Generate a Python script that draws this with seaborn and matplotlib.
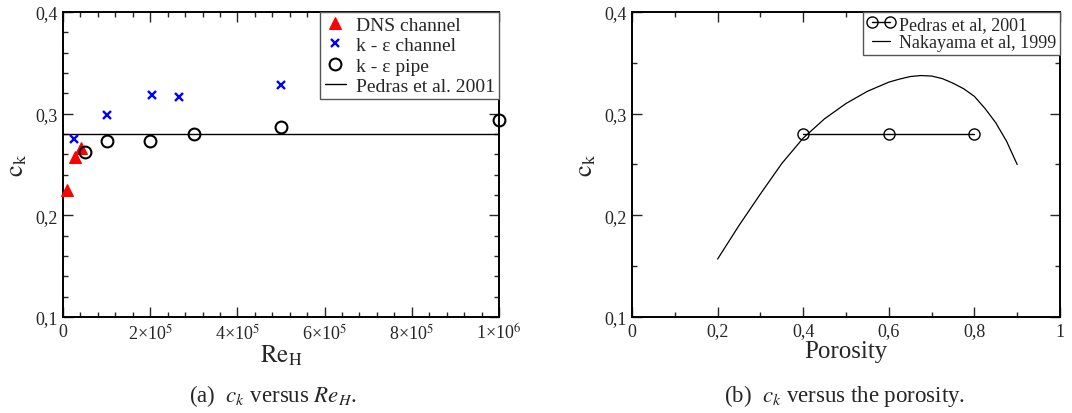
import matplotlib
matplotlib.use("Agg")
import matplotlib.pyplot as plt
from matplotlib.ticker import MultipleLocator, FixedLocator, FixedFormatter
import seaborn as sns
import pandas as pd

# ---------------- data ----------------
# panel (a)
dns_re = [1.0e4, 2.7e4, 4.1e4]
dns_ck = [0.225, 0.257, 0.266]

keps_ch_re = [2.6e4, 1.0e5, 2.05e5, 2.65e5, 5.0e5]
keps_ch_ck = [0.275, 0.299, 0.318, 0.316, 0.328]

keps_pipe_re = [5.0e4, 1.0e5, 2.0e5, 3.0e5, 5.0e5, 1.0e6]
keps_pipe_ck = [0.262, 0.273, 0.273, 0.280, 0.287, 0.294]

pedras_const = 0.28

re_ticks = [0, 2e5, 4e5, 6e5, 8e5, 1e6]
re_ticklabels = ["0", "2×10$^5$", "4×10$^5$", "6×10$^5$", "8×10$^5$", "1×10$^6$"]
ck_ticks = [0.1, 0.2, 0.3, 0.4]
ck_ticklabels = ["0,1", "0,2", "0,3", "0,4"]

# panel (b)
por_pedras = [0.4, 0.6, 0.8]
ck_pedras = [0.28, 0.28, 0.28]

por_naka = [0.20, 0.25, 0.30, 0.35, 0.40, 0.45, 0.50, 0.55, 0.60, 0.625, 0.65,
            0.675, 0.70, 0.725, 0.75, 0.775, 0.80, 0.825, 0.85, 0.875, 0.90]
ck_naka = [0.157, 0.190, 0.221, 0.251, 0.276, 0.295, 0.310, 0.322, 0.331, 0.334, 0.3365,
           0.3375, 0.337, 0.3345, 0.330, 0.3245, 0.317, 0.305, 0.291, 0.273, 0.250]

por_ticks = [0, 0.2, 0.4, 0.6, 0.8, 1.0]
por_ticklabels = ["0", "0,2", "0,4", "0,6", "0,8", "1"]

# ---------------- style ----------------
sns.set_style("ticks")
plt.rcParams["font.family"] = ["Liberation Serif", "DejaVu Serif"]
plt.rcParams["mathtext.fontset"] = "stix"
plt.rcParams["axes.linewidth"] = 1.4

fig = plt.figure(figsize=(10.72, 4.14), dpi=100)
ax1 = fig.add_axes([63 / 1072, 1 - 318 / 414, (499 - 63) / 1072, (318 - 13) / 414])
ax2 = fig.add_axes([632 / 1072, 1 - 318 / 414, (1060 - 632) / 1072, (318 - 13) / 414])

# ---------------- panel (a) ----------------
df_dns = pd.DataFrame({"Re": dns_re, "ck": dns_ck})
df_ch = pd.DataFrame({"Re": keps_ch_re, "ck": keps_ch_ck})
df_pipe = pd.DataFrame({"Re": keps_pipe_re, "ck": keps_pipe_ck})

sns.lineplot(data=df_dns, x="Re", y="ck", ax=ax1, linestyle="none", marker="^",
             markersize=9, color="#ff0000", markeredgecolor="#ff0000",
             label="DNS channel", clip_on=False, zorder=4)
sns.lineplot(data=df_ch, x="Re", y="ck", ax=ax1, linestyle="none", marker="x",
             markersize=5.2, markeredgewidth=1.7, color="#0000ff",
             markeredgecolor="#0000ff",
             label="k - ε channel", clip_on=False, zorder=4)
sns.lineplot(data=df_pipe, x="Re", y="ck", ax=ax1, linestyle="none", marker="o",
             markersize=8.5, markeredgewidth=1.5, markerfacecolor="none",
             markeredgecolor="black", color="black",
             label="k - ε pipe", clip_on=False, zorder=4)
ax1.axhline(pedras_const, color="black", lw=1.0, label="Pedras et al. 2001", zorder=3)

ax1.set_xlim(0, 1e6)
ax1.set_ylim(0.1, 0.4)
ax1.xaxis.set_major_locator(FixedLocator(re_ticks))
ax1.xaxis.set_major_formatter(FixedFormatter(re_ticklabels))
ax1.xaxis.set_minor_locator(MultipleLocator(4e4))
ax1.yaxis.set_major_locator(FixedLocator(ck_ticks))
ax1.yaxis.set_major_formatter(FixedFormatter(ck_ticklabels))
ax1.yaxis.set_minor_locator(MultipleLocator(0.02))
ax1.set_xlabel(r"$\mathrm{Re_H}$", fontsize=18, labelpad=0)
ax1.set_ylabel(r"$\mathrm{c_k}$", fontsize=19, labelpad=4)

leg1 = ax1.legend(loc="upper right", bbox_to_anchor=(1, 1), borderaxespad=0,
                  fontsize=14, numpoints=1, handlelength=1.1, handletextpad=0.5,
                  labelspacing=0.14, borderpad=0.22, fancybox=False, framealpha=1,
                  edgecolor="#555555")
leg1.get_frame().set_linewidth(1.0)

# ---------------- panel (b) ----------------
df_ped = pd.DataFrame({"por": por_pedras, "ck": ck_pedras})
df_nak = pd.DataFrame({"por": por_naka, "ck": ck_naka})

sns.lineplot(data=df_ped, x="por", y="ck", ax=ax2, color="black", lw=1.0,
             marker="o", markersize=8, markerfacecolor="none",
             markeredgecolor="black", markeredgewidth=1.0,
             label="Pedras et al, 2001", zorder=4)
sns.lineplot(data=df_nak, x="por", y="ck", ax=ax2, color="black", lw=0.9,
             label="Nakayama et al, 1999", zorder=3)

ax2.set_xlim(0, 1)
ax2.set_ylim(0.1, 0.4)
ax2.xaxis.set_major_locator(FixedLocator(por_ticks))
ax2.xaxis.set_major_formatter(FixedFormatter(por_ticklabels))
ax2.xaxis.set_minor_locator(MultipleLocator(0.1))
ax2.yaxis.set_major_locator(FixedLocator(ck_ticks))
ax2.yaxis.set_major_formatter(FixedFormatter(ck_ticklabels))
ax2.yaxis.set_minor_locator(MultipleLocator(0.05))
ax2.set_xlabel("Porosity", fontsize=18, labelpad=0)
ax2.set_ylabel(r"$\mathrm{c_k}$", fontsize=19, labelpad=4)

leg2 = ax2.legend(loc="upper right", bbox_to_anchor=(1, 1), borderaxespad=0,
                  fontsize=13, numpoints=2, handlelength=1.6, handletextpad=0.2,
                  labelspacing=0.1, borderpad=0.2, fancybox=False, framealpha=1,
                  edgecolor="#555555")
leg2.get_frame().set_linewidth(1.0)

for ax in (ax1, ax2):
    ax.tick_params(which="both", direction="in", top=True, right=True,
                   labelsize=13, width=1.0)
    ax.tick_params(which="major", length=7, pad=4)
    ax.tick_params(which="minor", length=3.5)
    for s in ax.spines.values():
        s.set_visible(True)
        s.set_color("black")

# captions
fig.text(273 / 1072, 1 - 402 / 414, r"(a)  $c_k$ versus $Re_H$.", fontsize=16.5,
         ha="center", va="baseline")
fig.text(845 / 1072, 1 - 402 / 414, r"(b)  $c_k$ versus the porosity.", fontsize=16.5,
         ha="center", va="baseline")

fig.savefig("out.png", dpi=100)
